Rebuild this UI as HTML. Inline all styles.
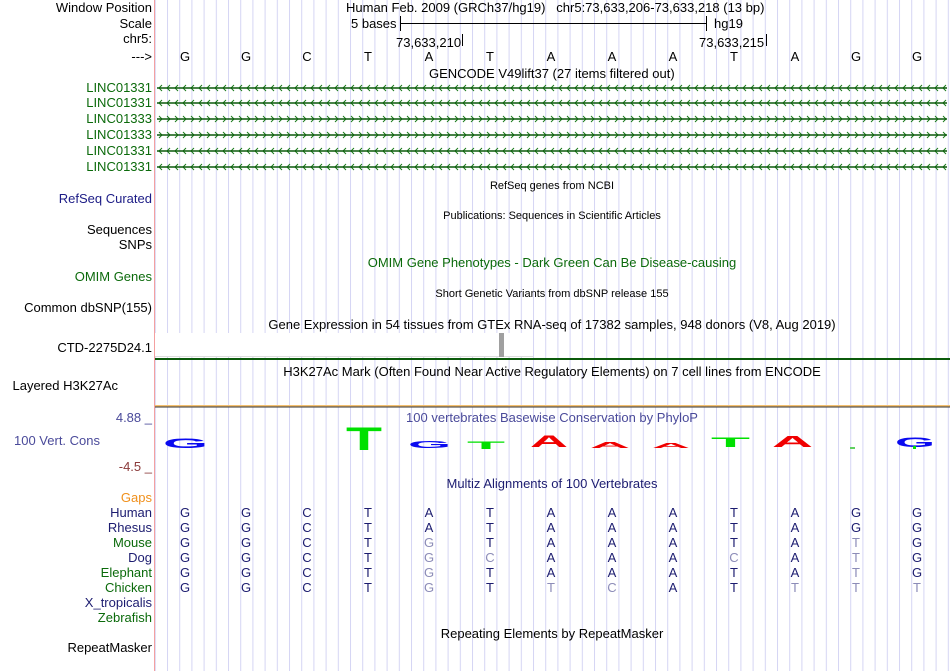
<!DOCTYPE html>
<html><head><meta charset="utf-8"><style>
body{margin:0;width:950px;height:671px;background:#fff;overflow:hidden}
svg{display:block}
text{font-family:"Liberation Sans",sans-serif}
</style></head><body>
<svg width="950" height="671" viewBox="0 0 950 671" xmlns="http://www.w3.org/2000/svg">
<defs>
<pattern id="grid" x="167" y="0" width="12.2" height="671" patternUnits="userSpaceOnUse"><rect x="0" y="0" width="1" height="671" fill="#d6d6f4"/></pattern>
<pattern id="left" x="157" y="-5" width="8" height="10" patternUnits="userSpaceOnUse"><path d="M5,2 L2,5 L5,8" fill="none" stroke="#1a7a1a" stroke-width="1"/></pattern>
<pattern id="right" x="157" y="-5" width="8" height="10" patternUnits="userSpaceOnUse"><path d="M2,2 L5,5 L2,8" fill="none" stroke="#1a7a1a" stroke-width="1"/></pattern>
</defs>
<rect x="155" y="0" width="795" height="671" fill="url(#grid)"/>
<rect x="154" y="0" width="1" height="671" fill="#f4a0a0"/>

<g font-size="13" text-anchor="end" fill="#000">
<text x="152" y="12">Window Position</text>
<text x="152" y="28">Scale</text>
<text x="152" y="43">chr5:</text>
<text x="152" y="61">---&gt;</text>
<g fill="#0b6a0b">
<text x="152" y="92">LINC01331</text><text x="152" y="107">LINC01331</text><text x="152" y="123">LINC01333</text><text x="152" y="139">LINC01333</text><text x="152" y="155">LINC01331</text><text x="152" y="171">LINC01331</text>
</g>
<text x="152" y="203" fill="#1c1c86">RefSeq Curated</text>
<text x="152" y="234">Sequences</text>
<text x="152" y="249">SNPs</text>
<text x="152" y="281" fill="#0b6a0b">OMIM Genes</text>
<text x="152" y="312">Common dbSNP(155)</text>
<text x="152" y="352">CTD-2275D24.1</text>
<text x="118" y="390">Layered H3K27Ac</text>
<text x="152" y="422" fill="#4a4a9a">4.88 _</text>
<text x="100" y="445" fill="#4a4a9a">100 Vert. Cons</text>
<text x="152" y="471" fill="#8b3a3a">-4.5 _</text>
<text x="152" y="502" fill="#f0901c">Gaps</text>
<text x="152" y="517" fill="#1c1c70">Human</text>
<text x="152" y="532" fill="#1c1c70">Rhesus</text>
<text x="152" y="547" fill="#0b6a0b">Mouse</text>
<text x="152" y="562" fill="#1c1c70">Dog</text>
<text x="152" y="577" fill="#0b6a0b">Elephant</text>
<text x="152" y="592" fill="#0b6a0b">Chicken</text>
<text x="152" y="607" fill="#1c1c70">X_tropicalis</text>
<text x="152" y="622" fill="#0b6a0b">Zebrafish</text>
<text x="152" y="652">RepeatMasker</text>
</g>

<g font-size="13" fill="#000">
<text x="346" y="12">Human Feb. 2009 (GRCh37/hg19)&#160;&#160;&#160;chr5:73,633,206-73,633,218 (13 bp)</text>
<text x="351" y="28">5 bases</text>
<text x="714" y="28">hg19</text>
<text x="396" y="47">73,633,210</text>
<text x="699" y="47">73,633,215</text>
<text x="429" y="78">GENCODE V49lift37 (27 items filtered out)</text>
</g>
<rect x="400" y="23" width="306" height="1" fill="#000"/>
<rect x="400" y="16" width="1" height="15" fill="#000"/>
<rect x="706" y="16" width="1" height="15" fill="#000"/>
<rect x="462" y="34" width="1" height="12" fill="#000"/>
<rect x="766" y="34" width="1" height="12" fill="#000"/>

<g font-size="13" text-anchor="middle" fill="#000">
<text x="185" y="61">G</text><text x="246" y="61">G</text><text x="307" y="61">C</text><text x="368" y="61">T</text><text x="429" y="61">A</text><text x="490" y="61">T</text><text x="551" y="61">A</text><text x="612" y="61">A</text><text x="673" y="61">A</text><text x="734" y="61">T</text><text x="795" y="61">A</text><text x="856" y="61">G</text><text x="917" y="61">G</text>
</g>

<g transform="translate(0,88)"><rect x="157" y="-5" width="790" height="10" fill="url(#left)"/><rect x="157" y="-0.75" width="790" height="1.5" fill="#0b5a0b"/></g>
<g transform="translate(0,103)"><rect x="157" y="-5" width="790" height="10" fill="url(#left)"/><rect x="157" y="-0.75" width="790" height="1.5" fill="#0b5a0b"/></g>
<g transform="translate(0,119)"><rect x="157" y="-5" width="790" height="10" fill="url(#right)"/><rect x="157" y="-0.75" width="790" height="1.5" fill="#0b5a0b"/></g>
<g transform="translate(0,135)"><rect x="157" y="-5" width="790" height="10" fill="url(#right)"/><rect x="157" y="-0.75" width="790" height="1.5" fill="#0b5a0b"/></g>
<g transform="translate(0,151)"><rect x="157" y="-5" width="790" height="10" fill="url(#left)"/><rect x="157" y="-0.75" width="790" height="1.5" fill="#0b5a0b"/></g>
<g transform="translate(0,167)"><rect x="157" y="-5" width="790" height="10" fill="url(#left)"/><rect x="157" y="-0.75" width="790" height="1.5" fill="#0b5a0b"/></g>

<g font-size="11" fill="#000" text-anchor="middle">
<text x="552" y="189">RefSeq genes from NCBI</text>
<text x="552" y="219">Publications: Sequences in Scientific Articles</text>
<text x="552" y="297">Short Genetic Variants from dbSNP release 155</text>
</g>
<g font-size="13" text-anchor="middle">
<text x="552" y="267" fill="#0b6a0b">OMIM Gene Phenotypes - Dark Green Can Be Disease-causing</text>
<text x="552" y="329" fill="#000">Gene Expression in 54 tissues from GTEx RNA-seq of 17382 samples, 948 donors (V8, Aug 2019)</text>
<text x="552" y="376" fill="#000">H3K27Ac Mark (Often Found Near Active Regulatory Elements) on 7 cell lines from ENCODE</text>
<text x="552" y="422" fill="#4a4a9a">100 vertebrates Basewise Conservation by PhyloP</text>
<text x="552" y="488" fill="#1c1c70">Multiz Alignments of 100 Vertebrates</text>
<text x="552" y="638" fill="#000">Repeating Elements by RepeatMasker</text>
</g>

<rect x="155" y="333" width="378" height="24" fill="#fff"/>
<rect x="155" y="356" width="378" height="1" fill="#ddd"/>
<rect x="499" y="333" width="5" height="24" fill="#a0a0a0"/>
<rect x="155" y="358" width="795" height="2" fill="#0b5a0b"/>
<rect x="155" y="405" width="795" height="1.5" fill="#f4c070"/>
<rect x="155" y="406.5" width="795" height="1" fill="#333"/>

<g font-weight="bold" font-size="100">
<text transform="translate(163,448) scale(1,0.139)" textLength="45" lengthAdjust="spacingAndGlyphs" fill="#0a0af0">G</text>
<text transform="translate(346,450) scale(1,0.32)" textLength="36" lengthAdjust="spacingAndGlyphs" fill="#00e000">T</text>
<text transform="translate(408,448) scale(1,0.1)" textLength="43" lengthAdjust="spacingAndGlyphs" fill="#0a0af0">G</text>
<text transform="translate(467,449) scale(1,0.11)" textLength="38" lengthAdjust="spacingAndGlyphs" fill="#00e000">T</text>
<text transform="translate(530,447) scale(1,0.167)" textLength="38" lengthAdjust="spacingAndGlyphs" fill="#f00000">A</text>
<text transform="translate(590,448) scale(1,0.083)" textLength="40" lengthAdjust="spacingAndGlyphs" fill="#f00000">A</text>
<text transform="translate(652,448) scale(1,0.07)" textLength="38" lengthAdjust="spacingAndGlyphs" fill="#f00000">A</text>
<text transform="translate(711,447) scale(1,0.14)" textLength="39" lengthAdjust="spacingAndGlyphs" fill="#00e000">T</text>
<text transform="translate(772,447) scale(1,0.153)" textLength="41" lengthAdjust="spacingAndGlyphs" fill="#f00000">A</text>
<text transform="translate(895,447) scale(1,0.139)" textLength="40" lengthAdjust="spacingAndGlyphs" fill="#0a0af0">G</text>
</g>
<rect x="850" y="447" width="5" height="2" fill="#60d060"/>
<rect x="913" y="446" width="3" height="3" fill="#00e000"/>

<g font-size="13" text-anchor="middle" fill="#1c1c70">
<g transform="translate(0,517)"><text x="185">G</text><text x="246">G</text><text x="307">C</text><text x="368">T</text><text x="429">A</text><text x="490">T</text><text x="551">A</text><text x="612">A</text><text x="673">A</text><text x="734">T</text><text x="795">A</text><text x="856">G</text><text x="917">G</text></g>
<g transform="translate(0,532)"><text x="185">G</text><text x="246">G</text><text x="307">C</text><text x="368">T</text><text x="429">A</text><text x="490">T</text><text x="551">A</text><text x="612">A</text><text x="673">A</text><text x="734">T</text><text x="795">A</text><text x="856">G</text><text x="917">G</text></g>
<g transform="translate(0,547)"><text x="185">G</text><text x="246">G</text><text x="307">C</text><text x="368">T</text><text x="429" fill="#8c8cb8">G</text><text x="490">T</text><text x="551">A</text><text x="612">A</text><text x="673">A</text><text x="734">T</text><text x="795">A</text><text x="856" fill="#8c8cb8">T</text><text x="917">G</text></g>
<g transform="translate(0,562)"><text x="185">G</text><text x="246">G</text><text x="307">C</text><text x="368">T</text><text x="429" fill="#8c8cb8">G</text><text x="490" fill="#8c8cb8">C</text><text x="551">A</text><text x="612">A</text><text x="673">A</text><text x="734" fill="#8c8cb8">C</text><text x="795">A</text><text x="856" fill="#8c8cb8">T</text><text x="917">G</text></g>
<g transform="translate(0,577)"><text x="185">G</text><text x="246">G</text><text x="307">C</text><text x="368">T</text><text x="429" fill="#8c8cb8">G</text><text x="490">T</text><text x="551">A</text><text x="612">A</text><text x="673">A</text><text x="734">T</text><text x="795">A</text><text x="856" fill="#8c8cb8">T</text><text x="917">G</text></g>
<g transform="translate(0,592)"><text x="185">G</text><text x="246">G</text><text x="307">C</text><text x="368">T</text><text x="429" fill="#8c8cb8">G</text><text x="490">T</text><text x="551" fill="#8c8cb8">T</text><text x="612" fill="#8c8cb8">C</text><text x="673">A</text><text x="734">T</text><text x="795" fill="#8c8cb8">T</text><text x="856" fill="#8c8cb8">T</text><text x="917" fill="#8c8cb8">T</text></g>
</g>
</svg>
</body></html>
